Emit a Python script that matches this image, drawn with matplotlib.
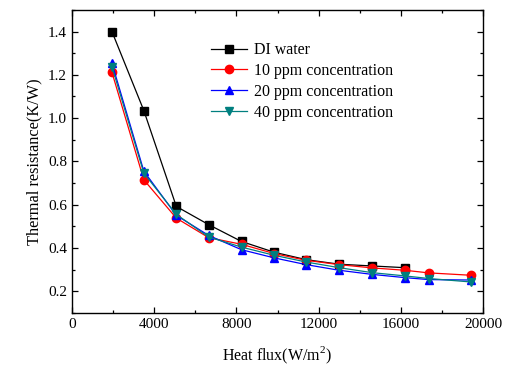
import matplotlib
matplotlib.use("Agg")
import matplotlib.pyplot as plt
from matplotlib.ticker import MultipleLocator

plt.rcParams['font.family'] = ['Liberation Serif', 'DejaVu Serif']
plt.rcParams['mathtext.fontset'] = 'custom'
plt.rcParams['mathtext.rm'] = 'Liberation Serif'

heat_flux = [1950, 3500, 5080, 6650, 8250, 9850, 11400, 13000, 14600, 16200, 17350, 19400]

di_water = [1.40, 1.035, 0.592, 0.508, 0.430, 0.380, 0.346, 0.325, 0.317, 0.309]
ppm10 = [1.212, 0.715, 0.538, 0.448, 0.417, 0.374, 0.343, 0.323, 0.308, 0.297, 0.285, 0.274]
ppm20 = [1.254, 0.755, 0.551, 0.458, 0.392, 0.354, 0.323, 0.297, 0.278, 0.263, 0.254, 0.252]
ppm40 = [1.238, 0.746, 0.555, 0.451, 0.404, 0.366, 0.335, 0.309, 0.286, 0.271, 0.259, 0.243]

fig = plt.figure(figsize=(5.13, 3.66), dpi=100)
ax = fig.add_axes([0.140, 0.145, 0.802, 0.828])

ax.plot(heat_flux[:len(di_water)], di_water, color='black', marker='s', ms=5.5, lw=0.9, label='DI water')
ax.plot(heat_flux, ppm10, color='red', marker='o', ms=6, lw=0.9, label='10 ppm concentration')
ax.plot(heat_flux, ppm20, color='blue', marker='^', ms=6, lw=0.9, label='20 ppm concentration')
ax.plot(heat_flux, ppm40, color='#007f7f', marker='v', ms=6, lw=0.9, label='40 ppm concentration')

ax.set_xlim(0, 20000)
ax.set_ylim(0.1, 1.5)
ax.xaxis.set_major_locator(MultipleLocator(4000))
ax.xaxis.set_minor_locator(MultipleLocator(2000))
ax.yaxis.set_minor_locator(MultipleLocator(0.1))
ax.set_yticks([0.2, 0.4, 0.6, 0.8, 1.0, 1.2, 1.4])
ax.set_yticklabels(['0.2', '0.4', '0.6', '0.8', '1.0', '1.2', '1.4'])
ax.tick_params(which='both', direction='in', top=True, right=True, labelsize=11)
ax.tick_params(which='major', length=4, width=0.9)
ax.tick_params(which='minor', length=2, width=0.9)
for s in ax.spines.values():
    s.set_linewidth(1.0)

ax.set_xlabel('Heat flux(W/m$^2$)', fontsize=11.5, labelpad=10)
ax.set_ylabel('Thermal resistance(K/W)', fontsize=11.8, labelpad=4)

ax.legend(loc='upper left', bbox_to_anchor=(0.31, 0.93), frameon=False, fontsize=11.5,
          handlelength=2.3, handletextpad=0.4, labelspacing=0.3, borderaxespad=0.3)

fig.savefig('out.png', dpi=100)
